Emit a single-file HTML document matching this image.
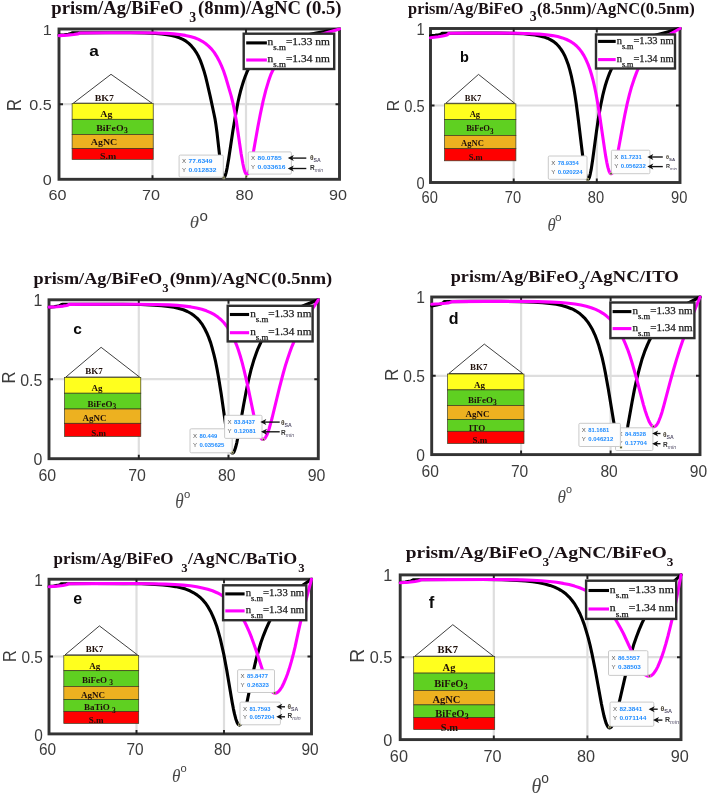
<!DOCTYPE html>
<html><head><meta charset="utf-8"><title>SPR reflectance curves</title>
<style>html,body{margin:0;padding:0;background:#fff;overflow:hidden}svg{display:block;filter:blur(0.4px)}</style></head>
<body>
<svg width="708" height="794" viewBox="0 0 708 794">
<rect width="708" height="794" fill="#fff"/>
<g id="pa">
<line x1="152.5" y1="29" x2="152.5" y2="179.3" stroke="#dedede" stroke-width="2.2"/>
<line x1="246" y1="29" x2="246" y2="179.3" stroke="#dedede" stroke-width="2.2"/>
<line x1="59" y1="104.2" x2="339.5" y2="104.2" stroke="#dedede" stroke-width="2.2"/>
<rect x="59" y="29" width="280.5" height="150.3" fill="none" stroke="#333" stroke-width="2.9"/>
<path d="M152.5 179.3 v-4 M152.5 29 v4" stroke="#222" stroke-width="1.9"/>
<path d="M246 179.3 v-4 M246 29 v4" stroke="#222" stroke-width="1.9"/>
<path d="M59 104.2 h4 M339.5 104.2 h-4" stroke="#222" stroke-width="1.9"/>
<clipPath id="cpa"><rect x="57.4" y="27.2" width="284.1" height="153.7"/></clipPath>
<g clip-path="url(#cpa)" fill="none" stroke-linejoin="round" stroke-linecap="round">
<path d="M59 35.1 L64.3 34.7 L68.2 34.2 L71.1 33.6 L71.8 33.3 L72.1 32.9 L73.1 32.9 L104.1 32.7 L130.4 32.7 L144.8 33 L155.5 33.4 L161.5 33.9 L166.9 34.6 L171.5 35.4 L175.7 36.5 L179.5 37.8 L182.9 39.4 L186 41.2 L188.8 43.4 L191.4 45.9 L193.9 48.9 L196.2 52.3 L198.3 56 L200.3 60.4 L202.1 65.2 L203.9 70.7 L205.6 76.7 L207 82.3 L210.4 97.2 L214 114 L215.1 119.4 L215.9 124.6 L217.1 133.3 L220.2 160.9 L221.2 168.9 L221.9 172.7 L222.5 175.3 L223.2 176.8 L223.5 177.2 L223.8 177.4 L224.2 177.2 L224.6 176.8 L225.4 175.2 L226.2 172.3 L227.1 168.1 L228.7 158.7 L232.9 130.7 L235.3 116.5 L237.9 102.5 L239.2 96.6 L240.5 91.3 L242 86.1 L243.5 81.2 L245.1 76.8 L246.7 72.7 L248.5 68.9 L250.4 65.5 L252.4 62.3 L254.5 59.3 L257 56.4 L259.6 53.8 L262.4 51.4 L265.5 49.1 L268.8 47 L272.4 45.1 L276.4 43.3 L280.8 41.7 L285.3 40.2 L290.3 38.7 L295.9 37.3 L302.1 35.9 L316.2 33.1 L339.5 29" stroke="#000" stroke-width="3.1"/>
<path d="M59 35.6 L67.5 35.1 L73.8 34.5 L77.7 33.9 L79 33.5 L79.3 33.3 L79.5 33 L80.5 33 L110.8 32.8 L139.7 32.8 L155.1 33 L166.7 33.4 L173.8 33.9 L179.9 34.6 L185.3 35.4 L190.2 36.5 L194.6 37.8 L198.6 39.4 L202.2 41.3 L205.5 43.5 L208.6 46.1 L211.6 49.1 L214.2 52.4 L216.7 56.3 L219.1 60.7 L221.4 65.6 L223.6 71 L225.7 77.2 L231.1 95.6 L232.2 100 L233.1 103.8 L234.6 111.3 L236.2 120.3 L241.1 153.6 L242.9 163.7 L243.9 168.5 L244.9 171.8 L245.4 172.9 L245.8 173.6 L246.3 174.1 L246.8 174.2 L247.3 174.1 L247.8 173.6 L248.3 172.8 L248.8 171.6 L249.9 168.4 L251.1 163.7 L253.1 153.7 L257.8 127.2 L260.3 114.3 L263.1 101.1 L265.9 89.9 L268.4 81.6 L269.6 78 L270.8 74.7 L272.1 71.8 L273.5 69 L275 66.1 L276.7 63.4 L278.7 60.4 L280.9 57.6 L283.3 54.9 L285.9 52.4 L288.6 50 L291.5 47.8 L294.6 45.8 L298 43.8 L301.6 41.9 L305.5 40.2 L309.7 38.4 L314.3 36.7 L319.3 35 L324.9 33.2 L339.5 29" stroke="#ff00ff" stroke-width="3.1"/>
</g>
<text transform="translate(57.4,200.3) scale(1.05,1)" font-family='"Liberation Sans","DejaVu Sans",sans-serif' font-size="15.4" fill="#3c3c3c" text-anchor="middle">60</text>
<text transform="translate(150.9,200.3) scale(1.05,1)" font-family='"Liberation Sans","DejaVu Sans",sans-serif' font-size="15.4" fill="#3c3c3c" text-anchor="middle">70</text>
<text transform="translate(244.4,200.3) scale(1.05,1)" font-family='"Liberation Sans","DejaVu Sans",sans-serif' font-size="15.4" fill="#3c3c3c" text-anchor="middle">80</text>
<text transform="translate(337.9,200.3) scale(1.05,1)" font-family='"Liberation Sans","DejaVu Sans",sans-serif' font-size="15.4" fill="#3c3c3c" text-anchor="middle">90</text>
<text transform="translate(51.8,184.9) scale(1.05,1)" font-family='"Liberation Sans","DejaVu Sans",sans-serif' font-size="15.4" fill="#3c3c3c" text-anchor="end">0</text>
<text transform="translate(51.8,109.8) scale(1.05,1)" font-family='"Liberation Sans","DejaVu Sans",sans-serif' font-size="15.4" fill="#3c3c3c" text-anchor="end">0.5</text>
<text transform="translate(51.8,34.6) scale(1.05,1)" font-family='"Liberation Sans","DejaVu Sans",sans-serif' font-size="15.4" fill="#3c3c3c" text-anchor="end">1</text>
<text transform="translate(21.3,105) rotate(-90) scale(1,1.17)" font-family='"Liberation Sans","DejaVu Sans",sans-serif' font-size="16.6" fill="#3c3c3c" text-anchor="middle">R</text>
<text transform="translate(189.8,227.6) scale(1.08,1)" font-family='"Liberation Serif","DejaVu Serif",serif' font-size="17.4" fill="#4a4a4a" font-style="italic">θ</text>
<text transform="translate(199.5,220.8) scale(1.08,1)" font-family='"Liberation Sans","DejaVu Sans",sans-serif' font-size="14" fill="#3c3c3c">o</text>
<text x="51.3" y="14" textLength="131.9" lengthAdjust="spacingAndGlyphs" font-family='"Liberation Serif","DejaVu Serif",serif' font-size="18.4" fill="#1a1014" font-weight="bold">prism/Ag/BiFeO</text>
<text transform="translate(192.8,21.5) scale(1,1)" font-family='"Liberation Serif","DejaVu Serif",serif' font-size="13.8" fill="#1a1014" text-anchor="middle" font-weight="bold">3</text>
<text x="198.1" y="14" textLength="143.5" lengthAdjust="spacingAndGlyphs" font-family='"Liberation Serif","DejaVu Serif",serif' font-size="18.4" fill="#1a1014" font-weight="bold">(8nm)/AgNC (0.5)</text>
<rect x="243.7" y="33.7" width="90.5" height="35.3" fill="#fff" stroke="#2e2e2e" stroke-width="2.4"/>
<line x1="246.2" y1="42.9" x2="266.9" y2="42.9" stroke="#000" stroke-width="3.1"/>
<text stroke="#1a1a1a" stroke-width="0.25" x="267.6" y="45.1" textLength="62.2" lengthAdjust="spacingAndGlyphs" font-family='"Liberation Serif","DejaVu Serif",serif' font-size="10" fill="#1a1a1a">n<tspan dy="5" font-size="7.8">s.m</tspan><tspan dy="-5">=1.33 nm</tspan></text>
<line x1="246.2" y1="60" x2="266.9" y2="60" stroke="#ff00ff" stroke-width="3.1"/>
<text stroke="#1a1a1a" stroke-width="0.25" x="267.6" y="62.2" textLength="62.2" lengthAdjust="spacingAndGlyphs" font-family='"Liberation Serif","DejaVu Serif",serif' font-size="10" fill="#1a1a1a">n<tspan dy="5" font-size="7.8">s.m</tspan><tspan dy="-5">=1.34 nm</tspan></text>
<path d="M73.3 103.2 L111 74.3 L152 103.2 Z" fill="#fff" stroke="#2a2a2a" stroke-width="0.9"/>
<rect x="72.1" y="103.5" width="81.1" height="15.8" fill="#ffff1e" stroke="#3a3a20" stroke-width="0.7"/>
<rect x="72.1" y="119.3" width="81.1" height="15.2" fill="#5fd021" stroke="#3a3a20" stroke-width="0.7"/>
<rect x="72.1" y="134.5" width="81.1" height="14" fill="#edb120" stroke="#3a3a20" stroke-width="0.7"/>
<rect x="72.1" y="148.5" width="81.1" height="10.9" fill="#ff0000" stroke="#3a3a20" stroke-width="0.7"/>
<text transform="translate(104.3,100.7) scale(1.1,1)" font-family='"Liberation Serif","DejaVu Serif",serif' font-size="9" fill="#20100a" text-anchor="middle" font-weight="bold">BK7</text>
<text transform="translate(106.3,116.7) scale(1.1,1)" font-family='"Liberation Serif","DejaVu Serif",serif' font-size="9" fill="#20100a" text-anchor="middle" font-weight="bold">Ag</text>
<text transform="translate(112,130.7) scale(1.1,1)" font-family='"Liberation Serif","DejaVu Serif",serif' font-size="9" fill="#20100a" text-anchor="middle" font-weight="bold">BiFeO<tspan dy="2.4" font-size="7.5">3</tspan></text>
<text transform="translate(104,145.1) scale(1.1,1)" font-family='"Liberation Serif","DejaVu Serif",serif' font-size="9" fill="#20100a" text-anchor="middle" font-weight="bold">AgNC</text>
<text transform="translate(108.2,159) scale(1.1,1)" font-family='"Liberation Serif","DejaVu Serif",serif' font-size="9" fill="#20100a" text-anchor="middle" font-weight="bold">S.m</text>
<text transform="translate(89.3,55.8) scale(1.15,1)" font-family='"Liberation Sans","DejaVu Sans",sans-serif' font-size="15" fill="#0a0a0a" font-weight="bold">a</text>
<rect x="179.1" y="155.1" width="44.2" height="22.1" rx="1.2" fill="#fdfdfd" stroke="#c4c4c4" stroke-width="0.9"/>
<text transform="translate(182,163.3) scale(1,1)" font-family='"Liberation Sans","DejaVu Sans",sans-serif' font-size="6.1" fill="#555">X</text>
<text x="188.5" y="163.3" textLength="24" lengthAdjust="spacingAndGlyphs" font-family='"Liberation Sans","DejaVu Sans",sans-serif' font-size="5.6" fill="#1e8bff" font-weight="bold">77.6349</text>
<text transform="translate(182,171.7) scale(1,1)" font-family='"Liberation Sans","DejaVu Sans",sans-serif' font-size="6.1" fill="#555">Y</text>
<text x="188.5" y="171.7" textLength="28" lengthAdjust="spacingAndGlyphs" font-family='"Liberation Sans","DejaVu Sans",sans-serif' font-size="5.6" fill="#1e8bff" font-weight="bold">0.012832</text>
<rect x="222.9" y="176.9" width="2" height="2" fill="#3a3a2a" stroke="#d8d8a0" stroke-width="0.5"/>
<rect x="248.2" y="151.9" width="43.2" height="22.2" rx="1.2" fill="#fdfdfd" stroke="#c4c4c4" stroke-width="0.9"/>
<text transform="translate(251.1,160.1) scale(1,1)" font-family='"Liberation Sans","DejaVu Sans",sans-serif' font-size="6.1" fill="#555">X</text>
<text x="257.6" y="160.1" textLength="24" lengthAdjust="spacingAndGlyphs" font-family='"Liberation Sans","DejaVu Sans",sans-serif' font-size="5.6" fill="#1e8bff" font-weight="bold">80.0785</text>
<text transform="translate(251.1,168.6) scale(1,1)" font-family='"Liberation Sans","DejaVu Sans",sans-serif' font-size="6.1" fill="#555">Y</text>
<text x="257.6" y="168.6" textLength="28" lengthAdjust="spacingAndGlyphs" font-family='"Liberation Sans","DejaVu Sans",sans-serif' font-size="5.6" fill="#1e8bff" font-weight="bold">0.033616</text>
<rect x="245.3" y="175.2" width="2" height="2" fill="#3a3a2a" stroke="#d8d8a0" stroke-width="0.5"/>
<path d="M306.3 158.1 H289.8" stroke="#111" stroke-width="1.35"/>
<path d="M287.8 158.1 l6 -3 l-1.6 3 l1.6 3 Z" fill="#111"/>
<path d="M306.3 168.5 H289.8" stroke="#111" stroke-width="1.35"/>
<path d="M287.8 168.5 l6 -3 l-1.6 3 l1.6 3 Z" fill="#111"/>
<text x="310" y="160" font-family='"Liberation Sans","DejaVu Sans",sans-serif' font-size="6.5" fill="#4a4436" font-weight="bold">θ<tspan dy="2.27" font-size="5.2" fill="#55506a">SA</tspan></text>
<text x="310" y="169.5" font-family='"Liberation Sans","DejaVu Sans",sans-serif' font-size="6.5" fill="#333" font-weight="bold">R<tspan dy="2.27" font-size="5.2" font-weight="normal" font-style="italic" fill="#55506a">min</tspan></text>
</g>
<g id="pb">
<line x1="513.7" y1="28.5" x2="513.7" y2="182.5" stroke="#dedede" stroke-width="2.2"/>
<line x1="596.8" y1="28.5" x2="596.8" y2="182.5" stroke="#dedede" stroke-width="2.2"/>
<line x1="430.5" y1="105.5" x2="680" y2="105.5" stroke="#dedede" stroke-width="2.2"/>
<rect x="430.5" y="28.5" width="249.5" height="154" fill="none" stroke="#333" stroke-width="2.9"/>
<path d="M513.7 182.5 v-4 M513.7 28.5 v4" stroke="#222" stroke-width="1.9"/>
<path d="M596.8 182.5 v-4 M596.8 28.5 v4" stroke="#222" stroke-width="1.9"/>
<path d="M430.5 105.5 h4 M680 105.5 h-4" stroke="#222" stroke-width="1.9"/>
<clipPath id="cpb"><rect x="428.9" y="26.7" width="253.1" height="157.4"/></clipPath>
<g clip-path="url(#cpb)" fill="none" stroke-linejoin="round" stroke-linecap="round">
<path d="M430.5 35.7 L435.1 35.2 L438.6 34.7 L440.1 34.4 L441.1 34 L441.8 33.7 L442 33.3 L443.2 33.3 L472.3 33.1 L497.2 33.1 L512.1 33.4 L523.4 33.8 L529.5 34.4 L534.9 35 L539.6 35.9 L543.7 36.9 L547.4 38.2 L550.7 39.8 L553.7 41.6 L556.3 43.8 L558.7 46.3 L560.9 49.1 L563 52.4 L564.9 56 L566.6 60.2 L568.3 64.8 L569.8 69.9 L571.3 75.8 L572.5 81.6 L573.8 88 L575 95.3 L576.2 103.2 L578.4 120.2 L582.6 155.3 L584.4 167.5 L585.3 173 L586.2 176.6 L586.7 177.9 L587.1 178.7 L587.5 179.2 L587.9 179.4 L588.3 179.2 L588.7 178.8 L589.5 177 L590.3 173.8 L591.2 169.4 L592.7 159.5 L596.4 132 L598.3 118.9 L600.5 106.3 L602.7 95.6 L604 90.3 L605.3 85.5 L606.7 81 L608.2 76.8 L609.7 72.9 L611.4 69.1 L613.1 65.7 L614.9 62.6 L616.9 59.5 L619.1 56.6 L621.5 53.9 L624 51.4 L626.7 49 L629.7 46.9 L632.8 44.8 L636.3 42.9 L639.9 41.1 L643.8 39.4 L648.1 37.8 L652.8 36.1 L657.9 34.5 L663.7 32.9 L680 28.5" stroke="#000" stroke-width="3.1"/>
<path d="M430.5 37.7 L438.2 36.8 L441.3 36.3 L443.9 35.8 L445.9 35.3 L447.4 34.7 L448.2 34.1 L448.5 33.8 L448.7 33.3 L448.9 33.3 L473.7 33.1 L501.9 33.1 L518.3 33.3 L530.9 33.7 L539.2 34.1 L546.3 34.7 L552.4 35.6 L557.7 36.6 L562.4 37.9 L566.6 39.5 L570.4 41.4 L572.1 42.5 L573.8 43.6 L576.6 46 L579.3 48.8 L581.6 51.9 L584.1 55.9 L586.1 59.8 L588 64.1 L589.8 69 L591.5 74.5 L593 80 L594.4 86 L595.8 92.7 L597.1 99.7 L599.7 115.7 L604.7 149.9 L605.8 156.9 L606.8 162.3 L607.9 167.4 L609 171 L609.6 172.3 L610.1 173.2 L610.6 173.7 L611.2 173.8 L611.7 173.6 L612.3 173.1 L612.8 172.2 L613.3 171 L614.5 167.6 L615.8 162.5 L618 151.7 L622.8 125.5 L624.9 114.5 L627.2 103.6 L629.4 94.7 L631.6 86.7 L634 79.4 L636.6 72.4 L639.3 66.2 L640.8 63.1 L642.4 60.2 L644.1 57.4 L645.9 54.8 L647.7 52.3 L649.7 49.9 L651.8 47.7 L654 45.6 L656.2 43.7 L658.5 41.8 L661 39.9 L663.7 38.1 L669.3 34.6 L680 28.5" stroke="#ff00ff" stroke-width="3.1"/>
</g>
<text transform="translate(429.7,202.8) scale(0.9,1)" font-family='"Liberation Sans","DejaVu Sans",sans-serif' font-size="16.3" fill="#3c3c3c" text-anchor="middle">60</text>
<text transform="translate(512.9,202.8) scale(0.9,1)" font-family='"Liberation Sans","DejaVu Sans",sans-serif' font-size="16.3" fill="#3c3c3c" text-anchor="middle">70</text>
<text transform="translate(596,202.8) scale(0.9,1)" font-family='"Liberation Sans","DejaVu Sans",sans-serif' font-size="16.3" fill="#3c3c3c" text-anchor="middle">80</text>
<text transform="translate(679.2,202.8) scale(0.9,1)" font-family='"Liberation Sans","DejaVu Sans",sans-serif' font-size="16.3" fill="#3c3c3c" text-anchor="middle">90</text>
<text transform="translate(424.7,188.7) scale(0.9,1)" font-family='"Liberation Sans","DejaVu Sans",sans-serif' font-size="16.3" fill="#3c3c3c" text-anchor="end">0</text>
<text transform="translate(424.7,111.7) scale(0.9,1)" font-family='"Liberation Sans","DejaVu Sans",sans-serif' font-size="16.3" fill="#3c3c3c" text-anchor="end">0.5</text>
<text transform="translate(424.7,34.7) scale(0.9,1)" font-family='"Liberation Sans","DejaVu Sans",sans-serif' font-size="16.3" fill="#3c3c3c" text-anchor="end">1</text>
<text transform="translate(398.6,105.4) rotate(-90) scale(1,1.08)" font-family='"Liberation Sans","DejaVu Sans",sans-serif' font-size="16" fill="#3c3c3c" text-anchor="middle">R</text>
<text transform="translate(547.5,230.5) scale(0.85,1)" font-family='"Liberation Serif","DejaVu Serif",serif' font-size="19.6" fill="#4a4a4a" font-style="italic">θ</text>
<text transform="translate(555,220.9) scale(1,1)" font-family='"Liberation Sans","DejaVu Sans",sans-serif' font-size="11.8" fill="#3c3c3c">o</text>
<text x="408.1" y="13.6" textLength="115.4" lengthAdjust="spacingAndGlyphs" font-family='"Liberation Serif","DejaVu Serif",serif' font-size="16.6" fill="#1a1014" font-weight="bold">prism/Ag/BiFeO</text>
<text transform="translate(533.2,21.4) scale(1,1)" font-family='"Liberation Serif","DejaVu Serif",serif' font-size="13.8" fill="#1a1014" text-anchor="middle" font-weight="bold">3</text>
<text x="537" y="13.6" textLength="157.8" lengthAdjust="spacingAndGlyphs" font-family='"Liberation Serif","DejaVu Serif",serif' font-size="16.6" fill="#1a1014" font-weight="bold">(8.5nm)/AgNC(0.5nm)</text>
<rect x="596" y="34.5" width="79" height="34" fill="#fff" stroke="#2e2e2e" stroke-width="2.4"/>
<line x1="598.1" y1="41.4" x2="615.7" y2="41.4" stroke="#000" stroke-width="3.1"/>
<text stroke="#1a1a1a" stroke-width="0.25" x="616.7" y="43.6" textLength="56.8" lengthAdjust="spacingAndGlyphs" font-family='"Liberation Serif","DejaVu Serif",serif' font-size="10" fill="#1a1a1a">n<tspan dy="5" font-size="7.8">s.m</tspan><tspan dy="-5">=1.33 nm</tspan></text>
<line x1="598.1" y1="59.6" x2="615.7" y2="59.6" stroke="#ff00ff" stroke-width="3.1"/>
<text stroke="#1a1a1a" stroke-width="0.25" x="616.7" y="61.8" textLength="56.8" lengthAdjust="spacingAndGlyphs" font-family='"Liberation Serif","DejaVu Serif",serif' font-size="10" fill="#1a1a1a">n<tspan dy="5" font-size="7.8">s.m</tspan><tspan dy="-5">=1.34 nm</tspan></text>
<path d="M445.8 103.3 L478.5 74.4 L514.7 103.3 Z" fill="#fff" stroke="#2a2a2a" stroke-width="0.9"/>
<rect x="444.6" y="103.8" width="71.3" height="15.6" fill="#ffff1e" stroke="#3a3a20" stroke-width="0.7"/>
<rect x="444.6" y="119.4" width="71.3" height="16" fill="#5fd021" stroke="#3a3a20" stroke-width="0.7"/>
<rect x="444.6" y="135.4" width="71.3" height="13.3" fill="#edb120" stroke="#3a3a20" stroke-width="0.7"/>
<rect x="444.6" y="148.7" width="71.3" height="12.1" fill="#ff0000" stroke="#3a3a20" stroke-width="0.7"/>
<text transform="translate(473,100.9) scale(0.95,1)" font-family='"Liberation Serif","DejaVu Serif",serif' font-size="9" fill="#20100a" text-anchor="middle" font-weight="bold">BK7</text>
<text transform="translate(474.9,117.3) scale(0.95,1)" font-family='"Liberation Serif","DejaVu Serif",serif' font-size="9" fill="#20100a" text-anchor="middle" font-weight="bold">Ag</text>
<text transform="translate(479.8,131.3) scale(0.95,1)" font-family='"Liberation Serif","DejaVu Serif",serif' font-size="9" fill="#20100a" text-anchor="middle" font-weight="bold">BiFeO<tspan dy="2.4" font-size="7.5">3</tspan></text>
<text transform="translate(472.5,146.4) scale(0.95,1)" font-family='"Liberation Serif","DejaVu Serif",serif' font-size="9" fill="#20100a" text-anchor="middle" font-weight="bold">AgNC</text>
<text transform="translate(475.7,160.3) scale(0.95,1)" font-family='"Liberation Serif","DejaVu Serif",serif' font-size="9" fill="#20100a" text-anchor="middle" font-weight="bold">S.m</text>
<text transform="translate(459.9,61.6) scale(0.95,1)" font-family='"Liberation Sans","DejaVu Sans",sans-serif' font-size="15.3" fill="#0a0a0a" font-weight="bold">b</text>
<rect x="548.3" y="156" width="38.7" height="23.3" rx="1.2" fill="#fdfdfd" stroke="#c4c4c4" stroke-width="0.9"/>
<text transform="translate(551.2,164.6) scale(1,1)" font-family='"Liberation Sans","DejaVu Sans",sans-serif' font-size="6.1" fill="#555">X</text>
<text x="557.7" y="164.6" textLength="21" lengthAdjust="spacingAndGlyphs" font-family='"Liberation Sans","DejaVu Sans",sans-serif' font-size="5.6" fill="#1e8bff" font-weight="bold">78.9354</text>
<text transform="translate(551.2,173.5) scale(1,1)" font-family='"Liberation Sans","DejaVu Sans",sans-serif' font-size="6.1" fill="#555">Y</text>
<text x="557.7" y="173.5" textLength="25" lengthAdjust="spacingAndGlyphs" font-family='"Liberation Sans","DejaVu Sans",sans-serif' font-size="5.6" fill="#1e8bff" font-weight="bold">0.020224</text>
<rect x="586.8" y="178.5" width="2" height="2" fill="#3a3a2a" stroke="#d8d8a0" stroke-width="0.5"/>
<rect x="611.4" y="150.2" width="38.5" height="23.5" rx="1.2" fill="#fdfdfd" stroke="#c4c4c4" stroke-width="0.9"/>
<text transform="translate(614.3,158.9) scale(1,1)" font-family='"Liberation Sans","DejaVu Sans",sans-serif' font-size="6.1" fill="#555">X</text>
<text x="620.8" y="158.9" textLength="21" lengthAdjust="spacingAndGlyphs" font-family='"Liberation Sans","DejaVu Sans",sans-serif' font-size="5.6" fill="#1e8bff" font-weight="bold">81.7231</text>
<text transform="translate(614.3,167.8) scale(1,1)" font-family='"Liberation Sans","DejaVu Sans",sans-serif' font-size="6.1" fill="#555">Y</text>
<text x="620.8" y="167.8" textLength="25" lengthAdjust="spacingAndGlyphs" font-family='"Liberation Sans","DejaVu Sans",sans-serif' font-size="5.6" fill="#1e8bff" font-weight="bold">0.056232</text>
<rect x="610" y="172.7" width="2" height="2" fill="#3a3a2a" stroke="#d8d8a0" stroke-width="0.5"/>
<path d="M662.8 157 H649.3" stroke="#111" stroke-width="1.35"/>
<path d="M647.3 157 l6 -3 l-1.6 3 l1.6 3 Z" fill="#111"/>
<path d="M662.8 166.6 H649.3" stroke="#111" stroke-width="1.35"/>
<path d="M647.3 166.6 l6 -3 l-1.6 3 l1.6 3 Z" fill="#111"/>
<text x="666" y="159" font-family='"Liberation Sans","DejaVu Sans",sans-serif' font-size="5.5" fill="#4a4436" font-weight="bold">θ<tspan dy="1.92" font-size="4.4" fill="#55506a">SA</tspan></text>
<text x="666" y="168" font-family='"Liberation Sans","DejaVu Sans",sans-serif' font-size="5.5" fill="#333" font-weight="bold">R<tspan dy="1.92" font-size="4.4" font-weight="normal" font-style="italic" fill="#55506a">min</tspan></text>
</g>
<g id="pc">
<line x1="138.8" y1="299.8" x2="138.8" y2="458.7" stroke="#dedede" stroke-width="2.2"/>
<line x1="228.5" y1="299.8" x2="228.5" y2="458.7" stroke="#dedede" stroke-width="2.2"/>
<line x1="49" y1="379.2" x2="318.3" y2="379.2" stroke="#dedede" stroke-width="2.2"/>
<rect x="49" y="299.8" width="269.3" height="158.9" fill="none" stroke="#333" stroke-width="2.9"/>
<path d="M138.8 458.7 v-4 M138.8 299.8 v4" stroke="#222" stroke-width="1.9"/>
<path d="M228.5 458.7 v-4 M228.5 299.8 v4" stroke="#222" stroke-width="1.9"/>
<path d="M49 379.2 h4 M318.3 379.2 h-4" stroke="#222" stroke-width="1.9"/>
<clipPath id="cpc"><rect x="47.4" y="298" width="272.9" height="162.3"/></clipPath>
<g clip-path="url(#cpc)" fill="none" stroke-linejoin="round" stroke-linecap="round">
<path d="M49 307.2 L54 306.7 L57.7 306.1 L59.3 305.7 L60.5 305.3 L61.1 304.9 L61.4 304.5 L62.6 304.4 L94.9 304.2 L123.1 304.3 L140.8 304.5 L154.2 305.1 L161.7 305.6 L168.2 306.4 L173.9 307.3 L178.9 308.4 L183.4 309.8 L187.4 311.5 L191.1 313.5 L194.3 315.8 L197.3 318.4 L199.9 321.3 L202.4 324.7 L204.6 328.5 L206.7 332.7 L208.7 337.4 L210.7 342.9 L212.4 348.8 L214 354.9 L215.6 361.7 L217.1 369.4 L218.6 377.7 L221.3 394.4 L226.2 429 L228.2 441.2 L229.4 446.4 L230.4 450.1 L231 451.5 L231.5 452.3 L232 452.9 L232.6 453 L233.1 452.9 L233.6 452.4 L234.1 451.6 L234.6 450.4 L235.7 447.1 L236.9 442.3 L238.9 431.9 L243.5 405.4 L245.9 392.8 L248.4 380.6 L251 369.8 L253.7 360.6 L255.1 356.4 L256.5 352.5 L257.9 348.8 L259.5 345.3 L261.1 341.9 L262.7 338.8 L264.7 335.5 L266.8 332.3 L269.1 329.3 L271.4 326.6 L273.9 324 L276.5 321.5 L279.3 319.1 L282.4 316.9 L285.5 314.8 L288.8 312.8 L292.4 310.8 L296.4 308.9 L300.5 307 L305.2 305 L318.3 299.8" stroke="#000" stroke-width="3.1"/>
<path d="M49 307.1 L57.1 306.7 L63.2 306.1 L66.7 305.4 L68.1 305 L68.5 304.8 L68.6 304.5 L69.7 304.4 L104.7 304.3 L136.3 304.3 L154.8 304.5 L168.9 304.9 L177.2 305.4 L184.5 306.1 L190.9 306.9 L196.6 308 L201.8 309.2 L206.4 310.8 L210.6 312.6 L214.5 314.7 L217.9 317.1 L221.1 319.7 L224 322.8 L226.7 326.2 L229.3 330 L231.8 334.3 L234.1 339.1 L236.3 344.3 L238.3 349.8 L240.2 355.8 L242.1 362.4 L244 369.8 L247.4 384.4 L254 416.1 L255.6 422.8 L256.9 428 L258.6 433.2 L259.4 435.2 L260.1 436.8 L260.9 438 L261.6 438.9 L262.3 439.3 L263.1 439.5 L263.7 439.3 L264.5 438.8 L265.2 438 L265.9 436.8 L266.7 435.3 L267.5 433.4 L269.2 428.5 L270.5 423.9 L272.1 418 L279.4 387.8 L283.3 373 L285.4 365.6 L287.6 358.7 L289.8 352.3 L292 346.3 L294.4 340.7 L296.8 335.3 L299.4 330.1 L302.2 325 L305 320.2 L308 315.3 L318.3 299.8" stroke="#ff00ff" stroke-width="3.1"/>
</g>
<text transform="translate(47.3,480.8) scale(0.92,1)" font-family='"Liberation Sans","DejaVu Sans",sans-serif' font-size="17.3" fill="#3c3c3c" text-anchor="middle">60</text>
<text transform="translate(137.1,480.8) scale(0.92,1)" font-family='"Liberation Sans","DejaVu Sans",sans-serif' font-size="17.3" fill="#3c3c3c" text-anchor="middle">70</text>
<text transform="translate(226.8,480.8) scale(0.92,1)" font-family='"Liberation Sans","DejaVu Sans",sans-serif' font-size="17.3" fill="#3c3c3c" text-anchor="middle">80</text>
<text transform="translate(316.6,480.8) scale(0.92,1)" font-family='"Liberation Sans","DejaVu Sans",sans-serif' font-size="17.3" fill="#3c3c3c" text-anchor="middle">90</text>
<text transform="translate(42.3,465.1) scale(0.92,1)" font-family='"Liberation Sans","DejaVu Sans",sans-serif' font-size="17.3" fill="#3c3c3c" text-anchor="end">0</text>
<text transform="translate(42.3,385.6) scale(0.92,1)" font-family='"Liberation Sans","DejaVu Sans",sans-serif' font-size="17.3" fill="#3c3c3c" text-anchor="end">0.5</text>
<text transform="translate(42.3,306.2) scale(0.92,1)" font-family='"Liberation Sans","DejaVu Sans",sans-serif' font-size="17.3" fill="#3c3c3c" text-anchor="end">1</text>
<text transform="translate(14.8,377.4) rotate(-90) scale(1,1.07)" font-family='"Liberation Sans","DejaVu Sans",sans-serif' font-size="16.6" fill="#3c3c3c" text-anchor="middle">R</text>
<text transform="translate(175.3,508) scale(0.86,1)" font-family='"Liberation Serif","DejaVu Serif",serif' font-size="20" fill="#4a4a4a" font-style="italic">θ</text>
<text transform="translate(184,498) scale(1,1)" font-family='"Liberation Sans","DejaVu Sans",sans-serif' font-size="11.3" fill="#3c3c3c">o</text>
<text x="33.5" y="283.5" textLength="128.7" lengthAdjust="spacingAndGlyphs" font-family='"Liberation Serif","DejaVu Serif",serif' font-size="16.5" fill="#1a1014" font-weight="bold">prism/Ag/BiFeO</text>
<text transform="translate(165.4,291.7) scale(1,1)" font-family='"Liberation Serif","DejaVu Serif",serif' font-size="12.7" fill="#1a1014" text-anchor="middle" font-weight="bold">3</text>
<text x="169.7" y="283.5" textLength="162.5" lengthAdjust="spacingAndGlyphs" font-family='"Liberation Serif","DejaVu Serif",serif' font-size="16.5" fill="#1a1014" font-weight="bold">(9nm)/AgNC(0.5nm)</text>
<rect x="227.7" y="305.8" width="84.9" height="35.6" fill="#fff" stroke="#2e2e2e" stroke-width="2.4"/>
<line x1="229.9" y1="314.5" x2="249.1" y2="314.5" stroke="#000" stroke-width="3.1"/>
<text stroke="#1a1a1a" stroke-width="0.25" x="250.2" y="316.8" textLength="61.3" lengthAdjust="spacingAndGlyphs" font-family='"Liberation Serif","DejaVu Serif",serif' font-size="10.5" fill="#1a1a1a">n<tspan dy="5.25" font-size="8.19">s.m</tspan><tspan dy="-5.25">=1.33 nm</tspan></text>
<line x1="229.9" y1="332.7" x2="249.1" y2="332.7" stroke="#ff00ff" stroke-width="3.1"/>
<text stroke="#1a1a1a" stroke-width="0.25" x="250.2" y="335" textLength="61.3" lengthAdjust="spacingAndGlyphs" font-family='"Liberation Serif","DejaVu Serif",serif' font-size="10.5" fill="#1a1a1a">n<tspan dy="5.25" font-size="8.19">s.m</tspan><tspan dy="-5.25">=1.34 nm</tspan></text>
<path d="M65.8 377.1 L101.1 347.3 L139.6 377.1 Z" fill="#fff" stroke="#2a2a2a" stroke-width="0.9"/>
<rect x="64.6" y="377.4" width="76.2" height="15.8" fill="#ffff1e" stroke="#3a3a20" stroke-width="0.7"/>
<rect x="64.6" y="393.2" width="76.2" height="15.8" fill="#5fd021" stroke="#3a3a20" stroke-width="0.7"/>
<rect x="64.6" y="409" width="76.2" height="14.3" fill="#edb120" stroke="#3a3a20" stroke-width="0.7"/>
<rect x="64.6" y="423.3" width="76.2" height="13.1" fill="#ff0000" stroke="#3a3a20" stroke-width="0.7"/>
<text transform="translate(94.1,374.2) scale(1,1)" font-family='"Liberation Serif","DejaVu Serif",serif' font-size="9" fill="#20100a" text-anchor="middle" font-weight="bold">BK7</text>
<text transform="translate(97,391.4) scale(1,1)" font-family='"Liberation Serif","DejaVu Serif",serif' font-size="9" fill="#20100a" text-anchor="middle" font-weight="bold">Ag</text>
<text transform="translate(101.8,406.6) scale(1,1)" font-family='"Liberation Serif","DejaVu Serif",serif' font-size="9" fill="#20100a" text-anchor="middle" font-weight="bold">BiFeO<tspan dy="2.4" font-size="7.5">3</tspan></text>
<text transform="translate(94.6,421) scale(1,1)" font-family='"Liberation Serif","DejaVu Serif",serif' font-size="9" fill="#20100a" text-anchor="middle" font-weight="bold">AgNC</text>
<text transform="translate(98.7,435.7) scale(1,1)" font-family='"Liberation Serif","DejaVu Serif",serif' font-size="9" fill="#20100a" text-anchor="middle" font-weight="bold">S.m</text>
<text transform="translate(73.2,333.7) scale(1,1)" font-family='"Liberation Sans","DejaVu Sans",sans-serif' font-size="15.5" fill="#0a0a0a" font-weight="bold">c</text>
<rect x="190" y="428.8" width="42.2" height="24" rx="1.2" fill="#fdfdfd" stroke="#c4c4c4" stroke-width="0.9"/>
<text transform="translate(192.9,437.7) scale(1,1)" font-family='"Liberation Sans","DejaVu Sans",sans-serif' font-size="6.1" fill="#555">X</text>
<text x="199.4" y="437.7" textLength="18" lengthAdjust="spacingAndGlyphs" font-family='"Liberation Sans","DejaVu Sans",sans-serif' font-size="5.6" fill="#1e8bff" font-weight="bold">80.449</text>
<text transform="translate(192.9,446.8) scale(1,1)" font-family='"Liberation Sans","DejaVu Sans",sans-serif' font-size="6.1" fill="#555">Y</text>
<text x="199.4" y="446.8" textLength="25" lengthAdjust="spacingAndGlyphs" font-family='"Liberation Sans","DejaVu Sans",sans-serif' font-size="5.6" fill="#1e8bff" font-weight="bold">0.035625</text>
<rect x="231.6" y="451.7" width="2" height="2" fill="#3a3a2a" stroke="#d8d8a0" stroke-width="0.5"/>
<rect x="224.6" y="415.3" width="37.4" height="23.1" rx="1.2" fill="#fdfdfd" stroke="#c4c4c4" stroke-width="0.9"/>
<text transform="translate(227.5,423.8) scale(1,1)" font-family='"Liberation Sans","DejaVu Sans",sans-serif' font-size="6.1" fill="#555">X</text>
<text x="234" y="423.8" textLength="21" lengthAdjust="spacingAndGlyphs" font-family='"Liberation Sans","DejaVu Sans",sans-serif' font-size="5.6" fill="#1e8bff" font-weight="bold">83.8437</text>
<text transform="translate(227.5,432.6) scale(1,1)" font-family='"Liberation Sans","DejaVu Sans",sans-serif' font-size="6.1" fill="#555">Y</text>
<text x="234" y="432.6" textLength="22" lengthAdjust="spacingAndGlyphs" font-family='"Liberation Sans","DejaVu Sans",sans-serif' font-size="5.6" fill="#1e8bff" font-weight="bold">0.12081</text>
<rect x="262.4" y="438.6" width="2" height="2" fill="#3a3a2a" stroke="#d8d8a0" stroke-width="0.5"/>
<path d="M279.7 422.1 H262.3" stroke="#111" stroke-width="1.35"/>
<path d="M260.3 422.1 l6 -3 l-1.6 3 l1.6 3 Z" fill="#111"/>
<path d="M279.7 431.8 H263" stroke="#111" stroke-width="1.35"/>
<path d="M261 431.8 l6 -3 l-1.6 3 l1.6 3 Z" fill="#111"/>
<text x="281" y="425" font-family='"Liberation Sans","DejaVu Sans",sans-serif' font-size="6.5" fill="#4a4436" font-weight="bold">θ<tspan dy="2.27" font-size="5.2" fill="#55506a">SA</tspan></text>
<text x="281" y="435" font-family='"Liberation Sans","DejaVu Sans",sans-serif' font-size="6.5" fill="#333" font-weight="bold">R<tspan dy="2.27" font-size="5.2" font-weight="normal" font-style="italic" fill="#55506a">min</tspan></text>
</g>
<g id="pd">
<line x1="521.1" y1="297" x2="521.1" y2="454.6" stroke="#dedede" stroke-width="2.2"/>
<line x1="610.6" y1="297" x2="610.6" y2="454.6" stroke="#dedede" stroke-width="2.2"/>
<line x1="431.7" y1="375.8" x2="700" y2="375.8" stroke="#dedede" stroke-width="2.2"/>
<rect x="431.7" y="297" width="268.3" height="157.6" fill="none" stroke="#333" stroke-width="2.9"/>
<path d="M521.1 454.6 v-4 M521.1 297 v4" stroke="#222" stroke-width="1.9"/>
<path d="M610.6 454.6 v-4 M610.6 297 v4" stroke="#222" stroke-width="1.9"/>
<path d="M431.7 375.8 h4 M700 375.8 h-4" stroke="#222" stroke-width="1.9"/>
<clipPath id="cpd"><rect x="430.1" y="295.2" width="271.9" height="161"/></clipPath>
<g clip-path="url(#cpd)" fill="none" stroke-linejoin="round" stroke-linecap="round">
<path d="M431.7 305.9 L436.8 305 L440.7 304 L442 303.5 L443 303 L443.8 302.4 L444.1 301.7 L444.5 301.6 L471.3 301.4 L501.3 301.4 L519.7 301.6 L533.8 302.1 L542.4 302.7 L549.8 303.4 L556.2 304.3 L561.9 305.5 L566.9 307 L571.5 308.7 L573.6 309.7 L575.6 310.8 L577.5 312 L579.3 313.2 L582.3 315.8 L585.2 318.7 L588.1 322.4 L590.4 326 L592.7 330.1 L594.9 334.8 L596.9 340 L598.8 345.6 L600.5 351.6 L602.2 357.9 L603.8 365 L605.3 372.4 L608.3 389 L614 423.6 L615.2 430.4 L616.3 435.7 L617.5 440.9 L618.7 444.5 L619.3 445.8 L619.9 446.7 L620.5 447.2 L621.1 447.3 L621.6 447.1 L622.2 446.6 L622.7 445.8 L623.3 444.6 L624.4 441.3 L625.6 436.7 L627.7 426.5 L632.2 401.2 L634.4 389.6 L636.9 378.4 L639.4 368.5 L641.9 359.6 L644.6 351.7 L647.5 344.6 L649 341.3 L650.6 338.2 L652.5 334.8 L654.4 331.7 L656.5 328.6 L658.6 325.7 L660.9 323 L663.4 320.4 L665.9 317.9 L668.7 315.5 L671.4 313.3 L674.4 311.1 L677.7 309 L681.1 306.9 L688.9 302.6 L700 297" stroke="#000" stroke-width="3.1"/>
<path d="M431.7 304.3 L439.7 303.8 L445.7 303.2 L448.1 302.9 L449.8 302.5 L450.8 302.1 L451.1 301.9 L451.3 301.7 L452.5 301.6 L485.9 301.4 L518.9 301.4 L537.7 301.6 L552.1 302.1 L560.7 302.5 L568.3 303.2 L574.9 304 L580.9 305 L586.3 306.2 L591.2 307.7 L595.6 309.4 L599.7 311.4 L603.3 313.6 L606.6 316.1 L609.8 318.9 L612.7 322.1 L615.5 325.6 L618.2 329.5 L620.7 333.9 L623.2 338.8 L625.4 343.9 L627.6 349.3 L629.7 355.3 L631.8 361.9 L635.6 375 L643.4 404.6 L645.2 410.8 L646.9 415.7 L648.8 420.7 L649.7 422.5 L650.6 424.1 L651.4 425.2 L652.3 426.1 L653.2 426.6 L654 426.7 L654.8 426.5 L655.5 426.1 L656.3 425.4 L657.1 424.3 L657.9 423 L658.7 421.3 L660.4 417 L662 412.2 L663.7 406.1 L670.2 381.6 L673.3 370.5 L676.4 359.9 L679.5 350.1 L683.1 339.6 L687.2 328.9 L691 319.2 L700 297" stroke="#ff00ff" stroke-width="3.1"/>
</g>
<text transform="translate(430.2,476.5) scale(0.94,1)" font-family='"Liberation Sans","DejaVu Sans",sans-serif' font-size="16.6" fill="#3c3c3c" text-anchor="middle">60</text>
<text transform="translate(519.6,476.5) scale(0.94,1)" font-family='"Liberation Sans","DejaVu Sans",sans-serif' font-size="16.6" fill="#3c3c3c" text-anchor="middle">70</text>
<text transform="translate(609.1,476.5) scale(0.94,1)" font-family='"Liberation Sans","DejaVu Sans",sans-serif' font-size="16.6" fill="#3c3c3c" text-anchor="middle">80</text>
<text transform="translate(698.5,476.5) scale(0.94,1)" font-family='"Liberation Sans","DejaVu Sans",sans-serif' font-size="16.6" fill="#3c3c3c" text-anchor="middle">90</text>
<text transform="translate(425,460.8) scale(0.94,1)" font-family='"Liberation Sans","DejaVu Sans",sans-serif' font-size="16.6" fill="#3c3c3c" text-anchor="end">0</text>
<text transform="translate(425,382) scale(0.94,1)" font-family='"Liberation Sans","DejaVu Sans",sans-serif' font-size="16.6" fill="#3c3c3c" text-anchor="end">0.5</text>
<text transform="translate(425,303.2) scale(0.94,1)" font-family='"Liberation Sans","DejaVu Sans",sans-serif' font-size="16.6" fill="#3c3c3c" text-anchor="end">1</text>
<text transform="translate(398.3,374.8) rotate(-90) scale(1,1.06)" font-family='"Liberation Sans","DejaVu Sans",sans-serif' font-size="17.2" fill="#3c3c3c" text-anchor="middle">R</text>
<text transform="translate(557.5,503.4) scale(0.87,1)" font-family='"Liberation Serif","DejaVu Serif",serif' font-size="19.8" fill="#4a4a4a" font-style="italic">θ</text>
<text transform="translate(566.1,493.3) scale(1,1)" font-family='"Liberation Sans","DejaVu Sans",sans-serif' font-size="10.8" fill="#3c3c3c">o</text>
<text x="450.8" y="281.9" textLength="127.8" lengthAdjust="spacingAndGlyphs" font-family='"Liberation Serif","DejaVu Serif",serif' font-size="16.5" fill="#1a1014" font-weight="bold">prism/Ag/BiFeO</text>
<text transform="translate(581.8,289.4) scale(1,1)" font-family='"Liberation Serif","DejaVu Serif",serif' font-size="12.7" fill="#1a1014" text-anchor="middle" font-weight="bold">3</text>
<text x="584.5" y="281.9" textLength="94.4" lengthAdjust="spacingAndGlyphs" font-family='"Liberation Serif","DejaVu Serif",serif' font-size="16.5" fill="#1a1014" font-weight="bold">/AgNC/ITO</text>
<rect x="610.4" y="302.5" width="84" height="35.6" fill="#fff" stroke="#2e2e2e" stroke-width="2.4"/>
<line x1="612.6" y1="311.6" x2="631.4" y2="311.6" stroke="#000" stroke-width="3.1"/>
<text stroke="#1a1a1a" stroke-width="0.25" x="632.5" y="313.8" textLength="60.1" lengthAdjust="spacingAndGlyphs" font-family='"Liberation Serif","DejaVu Serif",serif' font-size="10" fill="#1a1a1a">n<tspan dy="5" font-size="7.8">s.m</tspan><tspan dy="-5">=1.33 nm</tspan></text>
<line x1="612.6" y1="328.6" x2="631.4" y2="328.6" stroke="#ff00ff" stroke-width="3.1"/>
<text stroke="#1a1a1a" stroke-width="0.25" x="632.5" y="330.8" textLength="60.1" lengthAdjust="spacingAndGlyphs" font-family='"Liberation Serif","DejaVu Serif",serif' font-size="10" fill="#1a1a1a">n<tspan dy="5" font-size="7.8">s.m</tspan><tspan dy="-5">=1.34 nm</tspan></text>
<path d="M448.8 373.6 L484.3 344.1 L522.8 373.6 Z" fill="#fff" stroke="#2a2a2a" stroke-width="0.9"/>
<rect x="447.6" y="374" width="76.4" height="15.9" fill="#ffff1e" stroke="#3a3a20" stroke-width="0.7"/>
<rect x="447.6" y="389.9" width="76.4" height="15.6" fill="#5fd021" stroke="#3a3a20" stroke-width="0.7"/>
<rect x="447.6" y="405.5" width="76.4" height="13.9" fill="#edb120" stroke="#3a3a20" stroke-width="0.7"/>
<rect x="447.6" y="419.4" width="76.4" height="11.9" fill="#5fd021" stroke="#3a3a20" stroke-width="0.7"/>
<rect x="447.6" y="431.3" width="76.4" height="12.2" fill="#ff0000" stroke="#3a3a20" stroke-width="0.7"/>
<text transform="translate(478.7,370.3) scale(1,1)" font-family='"Liberation Serif","DejaVu Serif",serif' font-size="9" fill="#20100a" text-anchor="middle" font-weight="bold">BK7</text>
<text transform="translate(479.5,388.3) scale(1,1)" font-family='"Liberation Serif","DejaVu Serif",serif' font-size="9" fill="#20100a" text-anchor="middle" font-weight="bold">Ag</text>
<text transform="translate(482.3,403) scale(1,1)" font-family='"Liberation Serif","DejaVu Serif",serif' font-size="9" fill="#20100a" text-anchor="middle" font-weight="bold">BiFeO<tspan dy="2.4" font-size="7.5">3</tspan></text>
<text transform="translate(477.4,417.3) scale(1,1)" font-family='"Liberation Serif","DejaVu Serif",serif' font-size="9" fill="#20100a" text-anchor="middle" font-weight="bold">AgNC</text>
<text transform="translate(477,430.5) scale(1,1)" font-family='"Liberation Serif","DejaVu Serif",serif' font-size="9" fill="#20100a" text-anchor="middle" font-weight="bold">ITO</text>
<text transform="translate(479.8,443.1) scale(1,1)" font-family='"Liberation Serif","DejaVu Serif",serif' font-size="9" fill="#20100a" text-anchor="middle" font-weight="bold">S.m</text>
<text transform="translate(448.7,323.8) scale(1,1)" font-family='"Liberation Sans","DejaVu Sans",sans-serif' font-size="16" fill="#0a0a0a" font-weight="bold">d</text>
<rect x="615.5" y="427.8" width="37.4" height="22.7" rx="1.2" fill="#fdfdfd" stroke="#c4c4c4" stroke-width="0.9"/>
<text transform="translate(618.4,436.2) scale(1,1)" font-family='"Liberation Sans","DejaVu Sans",sans-serif' font-size="6.1" fill="#555">X</text>
<text x="624.9" y="436.2" textLength="21" lengthAdjust="spacingAndGlyphs" font-family='"Liberation Sans","DejaVu Sans",sans-serif' font-size="5.6" fill="#1e8bff" font-weight="bold">84.8528</text>
<text transform="translate(618.4,444.8) scale(1,1)" font-family='"Liberation Sans","DejaVu Sans",sans-serif' font-size="6.1" fill="#555">Y</text>
<text x="624.9" y="444.8" textLength="22" lengthAdjust="spacingAndGlyphs" font-family='"Liberation Sans","DejaVu Sans",sans-serif' font-size="5.6" fill="#1e8bff" font-weight="bold">0.17704</text>
<rect x="652.4" y="425.5" width="2" height="2" fill="#3a3a2a" stroke="#d8d8a0" stroke-width="0.5"/>
<rect x="578.9" y="423.3" width="41.5" height="23.2" rx="1.2" fill="#fdfdfd" stroke="#c4c4c4" stroke-width="0.9"/>
<text transform="translate(581.8,431.9) scale(1,1)" font-family='"Liberation Sans","DejaVu Sans",sans-serif' font-size="6.1" fill="#555">X</text>
<text x="588.3" y="431.9" textLength="21" lengthAdjust="spacingAndGlyphs" font-family='"Liberation Sans","DejaVu Sans",sans-serif' font-size="5.6" fill="#1e8bff" font-weight="bold">81.1681</text>
<text transform="translate(581.8,440.7) scale(1,1)" font-family='"Liberation Sans","DejaVu Sans",sans-serif' font-size="6.1" fill="#555">Y</text>
<text x="588.3" y="440.7" textLength="25" lengthAdjust="spacingAndGlyphs" font-family='"Liberation Sans","DejaVu Sans",sans-serif' font-size="5.6" fill="#1e8bff" font-weight="bold">0.046212</text>
<rect x="620" y="446.3" width="2" height="2" fill="#3a3a2a" stroke="#d8d8a0" stroke-width="0.5"/>
<path d="M660.5 433.5 H654.2" stroke="#111" stroke-width="1.35"/>
<path d="M652.2 433.5 l6 -3 l-1.6 3 l1.6 3 Z" fill="#111"/>
<path d="M660.5 443.7 H654.2" stroke="#111" stroke-width="1.35"/>
<path d="M652.2 443.7 l6 -3 l-1.6 3 l1.6 3 Z" fill="#111"/>
<text x="663" y="437" font-family='"Liberation Sans","DejaVu Sans",sans-serif' font-size="6.5" fill="#4a4436" font-weight="bold">θ<tspan dy="2.27" font-size="5.2" fill="#55506a">SA</tspan></text>
<text x="663" y="446.5" font-family='"Liberation Sans","DejaVu Sans",sans-serif' font-size="6.5" fill="#333" font-weight="bold">R<tspan dy="2.27" font-size="5.2" font-weight="normal" font-style="italic" fill="#55506a">min</tspan></text>
</g>
<g id="pe">
<line x1="136.5" y1="579.2" x2="136.5" y2="733.9" stroke="#dedede" stroke-width="2.2"/>
<line x1="224" y1="579.2" x2="224" y2="733.9" stroke="#dedede" stroke-width="2.2"/>
<line x1="49" y1="656.5" x2="311.5" y2="656.5" stroke="#dedede" stroke-width="2.2"/>
<rect x="49" y="579.2" width="262.5" height="154.7" fill="none" stroke="#333" stroke-width="2.9"/>
<path d="M136.5 733.9 v-4 M136.5 579.2 v4" stroke="#222" stroke-width="1.9"/>
<path d="M224 733.9 v-4 M224 579.2 v4" stroke="#222" stroke-width="1.9"/>
<path d="M49 656.5 h4 M311.5 656.5 h-4" stroke="#222" stroke-width="1.9"/>
<clipPath id="cpe"><rect x="47.4" y="577.4" width="266.1" height="158.1"/></clipPath>
<g clip-path="url(#cpe)" fill="none" stroke-linejoin="round" stroke-linecap="round">
<path d="M49 586.5 L53.7 586 L57.4 585.4 L59 585 L60.1 584.6 L60.8 584.2 L61.1 583.8 L62.6 583.8 L94.4 583.5 L123 583.6 L141.1 583.8 L155 584.4 L162.8 584.9 L169.6 585.7 L175.5 586.6 L180.8 587.7 L185.6 589.1 L189.9 590.8 L193.7 592.8 L197.3 595.1 L200.3 597.5 L203.2 600.4 L205.8 603.5 L208.2 607.2 L210.5 611.2 L212.7 615.8 L214.8 620.9 L216.8 626.5 L218.5 632.4 L220.3 638.9 L222 646.3 L223.8 654.4 L226.7 669.9 L232.2 702.4 L233.4 708.8 L234.5 713.9 L235.8 718.9 L237 722.3 L237.6 723.5 L238.2 724.4 L238.8 724.9 L239.4 725.1 L240 724.9 L240.6 724.4 L241.1 723.6 L241.7 722.5 L243 719.2 L244.3 714.6 L246.5 704.7 L251.4 680.7 L253.7 669.8 L256.1 659.4 L258.7 650 L261 642.3 L263.5 635.3 L266.1 628.8 L268.8 622.9 L270.5 619.5 L272.3 616.4 L274.1 613.4 L276 610.5 L278 607.8 L280.2 605.1 L282.4 602.5 L284.8 599.9 L287.2 597.6 L289.8 595.3 L295.5 590.6 L301.9 585.8 L311.5 579.2" stroke="#000" stroke-width="3.1"/>
<path d="M49 586.7 L56.9 586.1 L62.8 585.5 L66.4 584.8 L67.6 584.3 L68 584.1 L68.1 583.8 L69 583.8 L98.7 583.6 L132 583.5 L151.1 583.7 L165.8 584.1 L175 584.5 L183.1 585.1 L190.3 585.8 L196.7 586.7 L202.4 587.9 L207.7 589.2 L212.5 590.8 L217 592.7 L220.8 594.7 L224.3 596.9 L227.6 599.4 L230.7 602.2 L233.7 605.3 L236.6 608.8 L239.3 612.7 L242 616.9 L244.4 621.4 L246.8 626.3 L249.2 631.7 L251.6 637.7 L253.7 643.5 L256 650 L264.2 675.2 L266 680.2 L267.6 684.1 L269.6 688.2 L270.6 689.8 L271.6 691 L272.5 692 L273.4 692.7 L274.3 693.1 L275.3 693.2 L276 693.1 L276.9 692.8 L277.6 692.3 L278.5 691.6 L280.1 689.7 L281.9 687 L283.6 683.5 L285.5 679.2 L287.4 674.2 L289.3 668.6 L291.4 661.4 L293.4 653.9 L295.1 646.9 L298.9 629.2 L300.8 620.8 L304.2 607.1 L311.5 579.2" stroke="#ff00ff" stroke-width="3.1"/>
</g>
<text transform="translate(47.5,754.9) scale(0.93,1)" font-family='"Liberation Sans","DejaVu Sans",sans-serif' font-size="16.6" fill="#3c3c3c" text-anchor="middle">60</text>
<text transform="translate(135,754.9) scale(0.93,1)" font-family='"Liberation Sans","DejaVu Sans",sans-serif' font-size="16.6" fill="#3c3c3c" text-anchor="middle">70</text>
<text transform="translate(222.5,754.9) scale(0.93,1)" font-family='"Liberation Sans","DejaVu Sans",sans-serif' font-size="16.6" fill="#3c3c3c" text-anchor="middle">80</text>
<text transform="translate(310,754.9) scale(0.93,1)" font-family='"Liberation Sans","DejaVu Sans",sans-serif' font-size="16.6" fill="#3c3c3c" text-anchor="middle">90</text>
<text transform="translate(42.9,740.5) scale(0.93,1)" font-family='"Liberation Sans","DejaVu Sans",sans-serif' font-size="16.6" fill="#3c3c3c" text-anchor="end">0</text>
<text transform="translate(42.9,663.1) scale(0.93,1)" font-family='"Liberation Sans","DejaVu Sans",sans-serif' font-size="16.6" fill="#3c3c3c" text-anchor="end">0.5</text>
<text transform="translate(42.9,585.8) scale(0.93,1)" font-family='"Liberation Sans","DejaVu Sans",sans-serif' font-size="16.6" fill="#3c3c3c" text-anchor="end">1</text>
<text transform="translate(15.5,656.1) rotate(-90) scale(1,1.1)" font-family='"Liberation Sans","DejaVu Sans",sans-serif' font-size="16.4" fill="#3c3c3c" text-anchor="middle">R</text>
<text transform="translate(172,782.3) scale(0.87,1)" font-family='"Liberation Serif","DejaVu Serif",serif' font-size="19.8" fill="#4a4a4a" font-style="italic">θ</text>
<text transform="translate(180.6,772.1) scale(1,1)" font-family='"Liberation Sans","DejaVu Sans",sans-serif' font-size="11.2" fill="#3c3c3c">o</text>
<text x="53.5" y="564.4" textLength="120.1" lengthAdjust="spacingAndGlyphs" font-family='"Liberation Serif","DejaVu Serif",serif' font-size="16" fill="#1a1014" font-weight="bold">prism/Ag/BiFeO</text>
<text transform="translate(184.3,571.6) scale(1,1)" font-family='"Liberation Serif","DejaVu Serif",serif' font-size="12.7" fill="#1a1014" text-anchor="middle" font-weight="bold">3</text>
<text x="187.9" y="564.4" textLength="109.2" lengthAdjust="spacingAndGlyphs" font-family='"Liberation Serif","DejaVu Serif",serif' font-size="16" fill="#1a1014" font-weight="bold">/AgNC/BaTiO</text>
<text transform="translate(301.5,571.6) scale(1,1)" font-family='"Liberation Serif","DejaVu Serif",serif' font-size="12.7" fill="#1a1014" text-anchor="middle" font-weight="bold">3</text>
<rect x="223.1" y="585.3" width="83.2" height="34.9" fill="#fff" stroke="#2e2e2e" stroke-width="2.4"/>
<line x1="225.3" y1="593.9" x2="244.6" y2="593.9" stroke="#000" stroke-width="3.1"/>
<text stroke="#1a1a1a" stroke-width="0.25" x="245.7" y="596.1" textLength="58.5" lengthAdjust="spacingAndGlyphs" font-family='"Liberation Serif","DejaVu Serif",serif' font-size="10" fill="#1a1a1a">n<tspan dy="5" font-size="7.8">s.m</tspan><tspan dy="-5">=1.33 nm</tspan></text>
<line x1="225.3" y1="610.9" x2="244.6" y2="610.9" stroke="#ff00ff" stroke-width="3.1"/>
<text stroke="#1a1a1a" stroke-width="0.25" x="245.7" y="613.1" textLength="58.5" lengthAdjust="spacingAndGlyphs" font-family='"Liberation Serif","DejaVu Serif",serif' font-size="10" fill="#1a1a1a">n<tspan dy="5" font-size="7.8">s.m</tspan><tspan dy="-5">=1.34 nm</tspan></text>
<path d="M65 654.9 L99.4 625.9 L137.5 654.9 Z" fill="#fff" stroke="#2a2a2a" stroke-width="0.9"/>
<rect x="63.8" y="655.5" width="74.9" height="15.2" fill="#ffff1e" stroke="#3a3a20" stroke-width="0.7"/>
<rect x="63.8" y="670.7" width="74.9" height="15.7" fill="#5fd021" stroke="#3a3a20" stroke-width="0.7"/>
<rect x="63.8" y="686.4" width="74.9" height="13.1" fill="#edb120" stroke="#3a3a20" stroke-width="0.7"/>
<rect x="63.8" y="699.5" width="74.9" height="11.9" fill="#5fd021" stroke="#3a3a20" stroke-width="0.7"/>
<rect x="63.8" y="711.4" width="74.9" height="12" fill="#ff0000" stroke="#3a3a20" stroke-width="0.7"/>
<text transform="translate(94.4,652.1) scale(1,1)" font-family='"Liberation Serif","DejaVu Serif",serif' font-size="9" fill="#20100a" text-anchor="middle" font-weight="bold">BK7</text>
<text transform="translate(94.8,668.6) scale(1,1)" font-family='"Liberation Serif","DejaVu Serif",serif' font-size="9" fill="#20100a" text-anchor="middle" font-weight="bold">Ag</text>
<text transform="translate(97.4,682.7) scale(1,1)" font-family='"Liberation Serif","DejaVu Serif",serif' font-size="9" fill="#20100a" text-anchor="middle" font-weight="bold">BiFeO <tspan dy="2.4" font-size="7.5">3</tspan></text>
<text transform="translate(93,697.5) scale(1,1)" font-family='"Liberation Serif","DejaVu Serif",serif' font-size="9" fill="#20100a" text-anchor="middle" font-weight="bold">AgNC</text>
<text transform="translate(99.8,710.3) scale(1,1)" font-family='"Liberation Serif","DejaVu Serif",serif' font-size="9" fill="#20100a" text-anchor="middle" font-weight="bold">BaTiO <tspan dy="2.4" font-size="7.5">3</tspan></text>
<text transform="translate(96,723) scale(1,1)" font-family='"Liberation Serif","DejaVu Serif",serif' font-size="9" fill="#20100a" text-anchor="middle" font-weight="bold">S.m</text>
<text transform="translate(73.2,603.8) scale(1,1)" font-family='"Liberation Sans","DejaVu Sans",sans-serif' font-size="16" fill="#0a0a0a" font-weight="bold">e</text>
<rect x="237.6" y="669.7" width="36.9" height="22.8" rx="1.2" fill="#fdfdfd" stroke="#c4c4c4" stroke-width="0.9"/>
<text transform="translate(240.5,678.1) scale(1,1)" font-family='"Liberation Sans","DejaVu Sans",sans-serif' font-size="6.1" fill="#555">X</text>
<text x="247" y="678.1" textLength="21" lengthAdjust="spacingAndGlyphs" font-family='"Liberation Sans","DejaVu Sans",sans-serif' font-size="5.6" fill="#1e8bff" font-weight="bold">85.8477</text>
<text transform="translate(240.5,686.8) scale(1,1)" font-family='"Liberation Sans","DejaVu Sans",sans-serif' font-size="6.1" fill="#555">Y</text>
<text x="247" y="686.8" textLength="22" lengthAdjust="spacingAndGlyphs" font-family='"Liberation Sans","DejaVu Sans",sans-serif' font-size="5.6" fill="#1e8bff" font-weight="bold">0.26323</text>
<rect x="273.7" y="692" width="2" height="2" fill="#3a3a2a" stroke="#d8d8a0" stroke-width="0.5"/>
<rect x="240" y="702.1" width="40.4" height="22.7" rx="1.2" fill="#fdfdfd" stroke="#c4c4c4" stroke-width="0.9"/>
<text transform="translate(242.9,710.5) scale(1,1)" font-family='"Liberation Sans","DejaVu Sans",sans-serif' font-size="6.1" fill="#555">X</text>
<text x="249.4" y="710.5" textLength="21" lengthAdjust="spacingAndGlyphs" font-family='"Liberation Sans","DejaVu Sans",sans-serif' font-size="5.6" fill="#1e8bff" font-weight="bold">81.7593</text>
<text transform="translate(242.9,719.1) scale(1,1)" font-family='"Liberation Sans","DejaVu Sans",sans-serif' font-size="6.1" fill="#555">Y</text>
<text x="249.4" y="719.1" textLength="25" lengthAdjust="spacingAndGlyphs" font-family='"Liberation Sans","DejaVu Sans",sans-serif' font-size="5.6" fill="#1e8bff" font-weight="bold">0.057204</text>
<rect x="238.4" y="723.8" width="2" height="2" fill="#3a3a2a" stroke="#d8d8a0" stroke-width="0.5"/>
<path d="M285 706.8 H278.3" stroke="#111" stroke-width="1.35"/>
<path d="M276.3 706.8 l6 -3 l-1.6 3 l1.6 3 Z" fill="#111"/>
<path d="M285 716.8 H278.3" stroke="#111" stroke-width="1.35"/>
<path d="M276.3 716.8 l6 -3 l-1.6 3 l1.6 3 Z" fill="#111"/>
<text x="287.5" y="709" font-family='"Liberation Sans","DejaVu Sans",sans-serif' font-size="6.5" fill="#4a4436" font-weight="bold">θ<tspan dy="2.27" font-size="5.2" fill="#55506a">SA</tspan></text>
<text x="287.5" y="718.2" font-family='"Liberation Sans","DejaVu Sans",sans-serif' font-size="6.5" fill="#333" font-weight="bold">R<tspan dy="2.27" font-size="5.2" font-weight="normal" font-style="italic" fill="#55506a">min</tspan></text>
</g>
<g id="pf">
<line x1="493.8" y1="574.9" x2="493.8" y2="739.6" stroke="#dedede" stroke-width="2.2"/>
<line x1="587.4" y1="574.9" x2="587.4" y2="739.6" stroke="#dedede" stroke-width="2.2"/>
<line x1="400.2" y1="657.2" x2="681" y2="657.2" stroke="#dedede" stroke-width="2.2"/>
<rect x="400.2" y="574.9" width="280.8" height="164.7" fill="none" stroke="#333" stroke-width="2.9"/>
<path d="M493.8 739.6 v-4 M493.8 574.9 v4" stroke="#222" stroke-width="1.9"/>
<path d="M587.4 739.6 v-4 M587.4 574.9 v4" stroke="#222" stroke-width="1.9"/>
<path d="M400.2 657.2 h4 M681 657.2 h-4" stroke="#222" stroke-width="1.9"/>
<clipPath id="cpf"><rect x="398.6" y="573.1" width="284.4" height="168.1"/></clipPath>
<g clip-path="url(#cpf)" fill="none" stroke-linejoin="round" stroke-linecap="round">
<path d="M400.2 582.5 L405.2 582 L409.1 581.4 L410.8 581 L412.1 580.6 L412.8 580.2 L413.1 579.8 L414.9 579.7 L451 579.5 L482.3 579.5 L502 579.8 L517 580.4 L525.3 581 L532.6 581.8 L539.1 582.7 L544.8 583.9 L549.9 585.4 L554.6 587.1 L558.8 589.1 L560.8 590.3 L562.7 591.5 L566.1 594.1 L569.2 597.1 L572.1 600.5 L574.8 604.2 L577.3 608.5 L579.7 613.2 L582 618.5 L584.2 624.4 L586.1 630.6 L588.1 637.4 L590 644.8 L591.9 653.3 L595.2 669.7 L601.4 703.7 L602.8 710.5 L604 716 L605.5 721.3 L606.2 723.4 L606.9 725 L607.6 726.3 L608.3 727.2 L609 727.7 L609.7 727.9 L610.3 727.7 L610.9 727.3 L611.6 726.6 L612.2 725.5 L613.6 722.5 L615.1 718.2 L616.6 713 L618.4 706 L624.4 679.9 L626.8 669.6 L629 661.3 L631 654 L633.6 645.1 L636.4 637 L639.2 629.6 L642.1 622.9 L645.4 616.3 L649 610.1 L652.8 604.4 L657 598.9 L661.3 593.8 L666.2 588.7 L671.5 583.6 L681 574.9" stroke="#000" stroke-width="3.1"/>
<path d="M400.2 582.8 L408.7 582.2 L415 581.5 L418.8 580.8 L420.1 580.3 L420.5 580.1 L420.7 579.8 L421.5 579.7 L449.1 579.6 L486.3 579.5 L506.6 579.6 L522.3 579.9 L532.5 580.3 L541.5 580.8 L549.4 581.5 L556.6 582.3 L563.2 583.4 L569.1 584.6 L574.6 586.1 L579.7 587.8 L584 589.6 L588 591.6 L591.9 593.8 L595.5 596.3 L598.9 599.1 L602.3 602.2 L605.5 605.6 L608.6 609.3 L611.6 613.4 L614.6 617.9 L617.8 623.2 L620.9 628.8 L623.4 633.5 L625.7 638.5 L635.7 660.1 L637.9 664.6 L639.9 668.2 L641.2 670.1 L642.4 671.8 L643.5 673.2 L644.6 674.3 L645.8 675.1 L646.8 675.7 L647.9 676.1 L648.9 676.2 L649.9 676.1 L650.7 675.8 L651.6 675.3 L652.5 674.6 L653.3 673.8 L654.2 672.7 L656 670.1 L657.8 666.6 L659.7 662.2 L661.7 656.9 L663.7 651 L665.8 644 L668 636 L670.2 627.2 L672.5 617.7 L674.7 607.6 L676.9 597 L678.9 586.2 L681 574.9" stroke="#ff00ff" stroke-width="3.1"/>
</g>
<text transform="translate(398.9,762) scale(0.94,1)" font-family='"Liberation Sans","DejaVu Sans",sans-serif' font-size="17.3" fill="#3c3c3c" text-anchor="middle">60</text>
<text transform="translate(492.5,762) scale(0.94,1)" font-family='"Liberation Sans","DejaVu Sans",sans-serif' font-size="17.3" fill="#3c3c3c" text-anchor="middle">70</text>
<text transform="translate(586.1,762) scale(0.94,1)" font-family='"Liberation Sans","DejaVu Sans",sans-serif' font-size="17.3" fill="#3c3c3c" text-anchor="middle">80</text>
<text transform="translate(679.7,762) scale(0.94,1)" font-family='"Liberation Sans","DejaVu Sans",sans-serif' font-size="17.3" fill="#3c3c3c" text-anchor="middle">90</text>
<text transform="translate(392.4,745.7) scale(0.94,1)" font-family='"Liberation Sans","DejaVu Sans",sans-serif' font-size="17.3" fill="#3c3c3c" text-anchor="end">0</text>
<text transform="translate(392.4,663.4) scale(0.94,1)" font-family='"Liberation Sans","DejaVu Sans",sans-serif' font-size="17.3" fill="#3c3c3c" text-anchor="end">0.5</text>
<text transform="translate(392.4,581) scale(0.94,1)" font-family='"Liberation Sans","DejaVu Sans",sans-serif' font-size="17.3" fill="#3c3c3c" text-anchor="end">1</text>
<text transform="translate(363.7,655.9) rotate(-90) scale(1,1)" font-family='"Liberation Sans","DejaVu Sans",sans-serif' font-size="19.3" fill="#3c3c3c" text-anchor="middle">R</text>
<text transform="translate(531.4,792.5) scale(0.92,1)" font-family='"Liberation Serif","DejaVu Serif",serif' font-size="21.6" fill="#4a4a4a" font-style="italic">θ</text>
<text transform="translate(541.3,783.4) scale(1,1)" font-family='"Liberation Sans","DejaVu Sans",sans-serif' font-size="13.8" fill="#3c3c3c">o</text>
<text x="405.8" y="557.6" textLength="136.8" lengthAdjust="spacingAndGlyphs" font-family='"Liberation Serif","DejaVu Serif",serif' font-size="17.7" fill="#1a1014" font-weight="bold">prism/Ag/BiFeO</text>
<text transform="translate(545.9,565.5) scale(1,1)" font-family='"Liberation Serif","DejaVu Serif",serif' font-size="13.2" fill="#1a1014" text-anchor="middle" font-weight="bold">3</text>
<text x="548.5" y="557.6" textLength="118.4" lengthAdjust="spacingAndGlyphs" font-family='"Liberation Serif","DejaVu Serif",serif' font-size="17.7" fill="#1a1014" font-weight="bold">/AgNC/BiFeO</text>
<text transform="translate(670.1,565.5) scale(1,1)" font-family='"Liberation Serif","DejaVu Serif",serif' font-size="13.2" fill="#1a1014" text-anchor="middle" font-weight="bold">3</text>
<rect x="586.1" y="580.7" width="90.1" height="38.2" fill="#fff" stroke="#2e2e2e" stroke-width="2.4"/>
<line x1="588.5" y1="590.5" x2="609" y2="590.5" stroke="#000" stroke-width="3.1"/>
<text stroke="#1a1a1a" stroke-width="0.25" x="609.8" y="592.8" textLength="64" lengthAdjust="spacingAndGlyphs" font-family='"Liberation Serif","DejaVu Serif",serif' font-size="10.5" fill="#1a1a1a">n<tspan dy="5.25" font-size="8.19">s.m</tspan><tspan dy="-5.25">=1.33 nm</tspan></text>
<line x1="588.5" y1="609" x2="609" y2="609" stroke="#ff00ff" stroke-width="3.1"/>
<text stroke="#1a1a1a" stroke-width="0.25" x="609.8" y="611.3" textLength="64" lengthAdjust="spacingAndGlyphs" font-family='"Liberation Serif","DejaVu Serif",serif' font-size="10.5" fill="#1a1a1a">n<tspan dy="5.25" font-size="8.19">s.m</tspan><tspan dy="-5.25">=1.34 nm</tspan></text>
<path d="M414.9 656.2 L452.8 624.7 L493.5 656.2 Z" fill="#fff" stroke="#2a2a2a" stroke-width="0.9"/>
<rect x="413.7" y="656.6" width="81" height="16.5" fill="#ffff1e" stroke="#3a3a20" stroke-width="0.7"/>
<rect x="413.7" y="673.1" width="81" height="17.3" fill="#5fd021" stroke="#3a3a20" stroke-width="0.7"/>
<rect x="413.7" y="690.4" width="81" height="14.5" fill="#edb120" stroke="#3a3a20" stroke-width="0.7"/>
<rect x="413.7" y="704.9" width="81" height="12.7" fill="#5fd021" stroke="#3a3a20" stroke-width="0.7"/>
<rect x="413.7" y="717.6" width="81" height="11.9" fill="#ff0000" stroke="#3a3a20" stroke-width="0.7"/>
<text transform="translate(447.8,652.9) scale(1,1)" font-family='"Liberation Serif","DejaVu Serif",serif' font-size="10.5" fill="#20100a" text-anchor="middle" font-weight="bold">BK7</text>
<text transform="translate(449,671.1) scale(1,1)" font-family='"Liberation Serif","DejaVu Serif",serif' font-size="10.5" fill="#20100a" text-anchor="middle" font-weight="bold">Ag</text>
<text transform="translate(451,686.8) scale(1,1)" font-family='"Liberation Serif","DejaVu Serif",serif' font-size="10.5" fill="#20100a" text-anchor="middle" font-weight="bold">BiFeO<tspan dy="2.4" font-size="8.5">3</tspan></text>
<text transform="translate(446.4,702.9) scale(1,1)" font-family='"Liberation Serif","DejaVu Serif",serif' font-size="10.5" fill="#20100a" text-anchor="middle" font-weight="bold">AgNC</text>
<text transform="translate(452,717) scale(1,1)" font-family='"Liberation Serif","DejaVu Serif",serif' font-size="10.5" fill="#20100a" text-anchor="middle" font-weight="bold">BiFeO<tspan dy="2.4" font-size="8.5">3</tspan></text>
<text transform="translate(449.4,730.7) scale(1,1)" font-family='"Liberation Serif","DejaVu Serif",serif' font-size="10.5" fill="#20100a" text-anchor="middle" font-weight="bold">S.m</text>
<text transform="translate(428.8,608.2) scale(1,1)" font-family='"Liberation Sans","DejaVu Sans",sans-serif' font-size="16.7" fill="#0a0a0a" font-weight="bold">f</text>
<rect x="608.5" y="650.7" width="39.4" height="24.7" rx="1.2" fill="#fdfdfd" stroke="#c4c4c4" stroke-width="0.9"/>
<text transform="translate(611.4,659.8) scale(1,1)" font-family='"Liberation Sans","DejaVu Sans",sans-serif' font-size="6.1" fill="#555">X</text>
<text x="617.9" y="659.8" textLength="22" lengthAdjust="spacingAndGlyphs" font-family='"Liberation Sans","DejaVu Sans",sans-serif' font-size="5.6" fill="#1e8bff" font-weight="bold">86.5557</text>
<text transform="translate(611.4,669.2) scale(1,1)" font-family='"Liberation Sans","DejaVu Sans",sans-serif' font-size="6.1" fill="#555">Y</text>
<text x="617.9" y="669.2" textLength="23" lengthAdjust="spacingAndGlyphs" font-family='"Liberation Sans","DejaVu Sans",sans-serif' font-size="5.6" fill="#1e8bff" font-weight="bold">0.38503</text>
<rect x="648.3" y="675" width="2" height="2" fill="#3a3a2a" stroke="#d8d8a0" stroke-width="0.5"/>
<rect x="610" y="702.1" width="43.8" height="24.2" rx="1.2" fill="#fdfdfd" stroke="#c4c4c4" stroke-width="0.9"/>
<text transform="translate(612.9,711.1) scale(1,1)" font-family='"Liberation Sans","DejaVu Sans",sans-serif' font-size="6.1" fill="#555">X</text>
<text x="619.4" y="711.1" textLength="23" lengthAdjust="spacingAndGlyphs" font-family='"Liberation Sans","DejaVu Sans",sans-serif' font-size="5.6" fill="#1e8bff" font-weight="bold">82.3841</text>
<text transform="translate(612.9,720.2) scale(1,1)" font-family='"Liberation Sans","DejaVu Sans",sans-serif' font-size="6.1" fill="#555">Y</text>
<text x="619.4" y="720.2" textLength="27" lengthAdjust="spacingAndGlyphs" font-family='"Liberation Sans","DejaVu Sans",sans-serif' font-size="5.6" fill="#1e8bff" font-weight="bold">0.071144</text>
<rect x="608.4" y="726" width="2" height="2" fill="#3a3a2a" stroke="#d8d8a0" stroke-width="0.5"/>
<path d="M657.7 709.2 H650.6" stroke="#111" stroke-width="1.35"/>
<path d="M648.6 709.2 l6 -3 l-1.6 3 l1.6 3 Z" fill="#111"/>
<path d="M662.4 720.1 H655" stroke="#111" stroke-width="1.35"/>
<path d="M653 720.1 l6 -3 l-1.6 3 l1.6 3 Z" fill="#111"/>
<text x="660.5" y="710.5" font-family='"Liberation Sans","DejaVu Sans",sans-serif' font-size="7" fill="#4a4436" font-weight="bold">θ<tspan dy="2.45" font-size="5.6" fill="#55506a">SA</tspan></text>
<text x="665" y="722" font-family='"Liberation Sans","DejaVu Sans",sans-serif' font-size="7" fill="#333" font-weight="bold">R<tspan dy="2.45" font-size="5.6" font-weight="normal" font-style="italic" fill="#55506a">min</tspan></text>
</g>
</svg>
</body></html>
